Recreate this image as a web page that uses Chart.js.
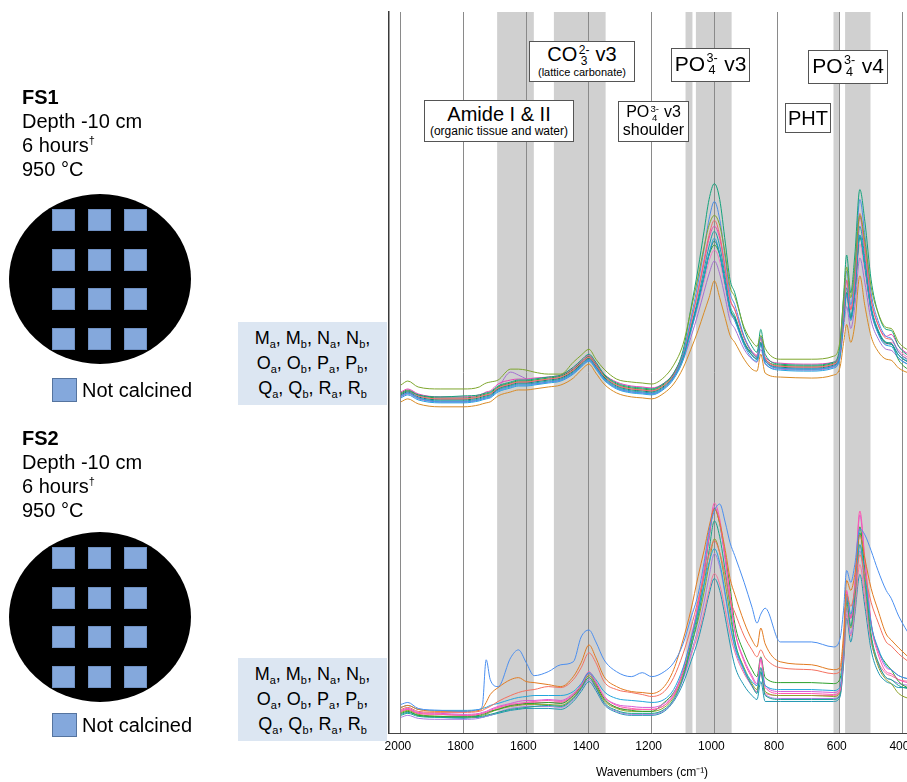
<!DOCTYPE html>
<html>
<head>
<meta charset="utf-8">
<title>FS1 / FS2 FTIR spectra</title>
<script src="https://cdn.jsdelivr.net/npm/chart.js@4.4.1/dist/chart.umd.min.js"></script>
<style>
  html, body { margin: 0; padding: 0; background: #fff; overflow: hidden; }
  body { width: 907px; height: 782px; position: relative; font-family: "Liberation Sans", Arial, sans-serif; color: #000; }
  #plot { position: absolute; left: 0; top: 0; }
  .info { position: absolute; left: 22px; font-size: 20px; line-height: 24px; white-space: nowrap; }
  .info sup { font-size: 11px; vertical-align: 8px; line-height: 0; }
  .disc { position: absolute; left: 9px; width: 182px; height: 170px; border-radius: 50%; background: #000; }
  .sq { position: absolute; width: 23px; height: 22px; background: #84a8dc; box-sizing: border-box; border: 1px solid #6f90c2; }
  .key { position: absolute; left: 52px; font-size: 20px; line-height: 24px; white-space: nowrap; }
  .key .sw { display: inline-block; width: 25px; height: 24px; vertical-align: top; margin-right: 5px; background: #84a8dc; box-sizing: border-box; border: 1px solid #55749f; }
  .samples { position: absolute; left: 238px; width: 149px; height: 83px; background: #dce6f2; font-size: 18px; line-height: 25px; text-align: center; padding-top: 4px; box-sizing: border-box; white-space: nowrap; }
  .samples sub { font-size: 11px; vertical-align: -4px; line-height: 0; }
  .note { position: absolute; background: #fff; border: 1px solid #555; box-sizing: border-box; display: flex; flex-direction: column; align-items: center; justify-content: center; white-space: nowrap; line-height: 1.05; }
  .stk { display: inline-flex; flex-direction: column; vertical-align: middle; font-size: 0.6em; line-height: 0.95; margin: 0 0.05em 0 0.12em; text-align: center; }
</style>
</head>
<body>

<canvas id="plot" width="940" height="782"></canvas>

<!-- sample descriptions, left column -->
<div class="info" style="top:85px"><b>FS1</b><br>Depth -10 cm<br>6 hours<sup>†</sup><br>950 °C</div>
<div class="disc" id="disc1" style="top:194px"></div>
<div class="key" style="top:378px"><span class="sw"></span>Not calcined</div>

<div class="info" style="top:426px"><b>FS2</b><br>Depth -10 cm<br>6 hours<sup>†</sup><br>950 °C</div>
<div class="disc" id="disc2" style="top:532px"></div>
<div class="key" style="top:713px"><span class="sw"></span>Not calcined</div>

<div class="samples" style="top:322px">M<sub>a</sub>, M<sub>b</sub>, N<sub>a</sub>, N<sub>b</sub>,<br>O<sub>a</sub>, O<sub>b</sub>, P<sub>a</sub>, P<sub>b</sub>,<br>Q<sub>a</sub>, Q<sub>b</sub>, R<sub>a</sub>, R<sub>b</sub></div>
<div class="samples" style="top:658px">M<sub>a</sub>, M<sub>b</sub>, N<sub>a</sub>, N<sub>b</sub>,<br>O<sub>a</sub>, O<sub>b</sub>, P<sub>a</sub>, P<sub>b</sub>,<br>Q<sub>a</sub>, Q<sub>b</sub>, R<sub>a</sub>, R<sub>b</sub></div>

<!-- band labels -->
<div class="note" style="left:424px;top:100px;width:150px;height:42px">
  <span style="font-size:20px">Amide I &amp; II</span>
  <span style="font-size:12px">(organic tissue and water)</span>
</div>
<div class="note" style="left:529px;top:41px;width:106px;height:41px">
  <span style="font-size:20px">CO<span class="stk"><span>2-</span><span>3</span></span> v3</span>
  <span style="font-size:11px">(lattice carbonate)</span>
</div>
<div class="note" style="left:618px;top:101px;width:71px;height:41px">
  <span style="font-size:16px">PO<span class="stk"><span>3-</span><span>4</span></span> v3</span>
  <span style="font-size:16px">shoulder</span>
</div>
<div class="note" style="left:671px;top:48px;width:79px;height:34px">
  <span style="font-size:21px">PO<span class="stk"><span>3-</span><span>4</span></span> v3</span>
</div>
<div class="note" style="left:785px;top:103px;width:46px;height:30px">
  <span style="font-size:20px">PHT</span>
</div>
<div class="note" style="left:808px;top:50px;width:80px;height:34px">
  <span style="font-size:21px">PO<span class="stk"><span>3-</span><span>4</span></span> v4</span>
</div>

<script>
// wavenumber grid shared by every spectrum (cm-1)
var wavenumbers = [2000, 1978, 1945, 1875, 1800, 1750, 1740, 1728, 1715, 1690,
  1650, 1625, 1600, 1575, 1530, 1490, 1450, 1425, 1400, 1378,
  1352, 1312, 1265, 1230, 1200, 1160, 1130, 1100, 1075, 1052,
  1033, 1017, 1000, 983, 965, 950, 935, 905, 880, 864,
  852, 838, 790, 690, 620, 600, 588, 578, 565, 552,
  536, 520, 500, 478, 452, 436, 412, 372];

var tickValues = [2000, 1800, 1600, 1400, 1200, 1000, 800, 600, 400];

// shaded absorption regions [from, to] cm-1
var bandRanges = [[1693, 1576], [1512, 1347], [1092, 1070], [1059, 945], [620, 602], [583, 502]];

var sampleNames = ['Ma', 'Mb', 'Na', 'Nb', 'Oa', 'Ob', 'Pa', 'Pb', 'Qa', 'Qb', 'Ra', 'Rb'];

// FS1 is stacked above FS2
var FS1_SHIFT = 160;

// absorbance (a.u.), FS1
var fs1Ma = [15.5, 17.5, 14.5, 13.5, 13.5, 14.5, 15.5, 16.5, 17, 18, 23.5, 23.5, 23, 22, 21, 21, 27, 30.5, 33.5, 28.5, 23.5, 18.5, 17, 16.5, 16, 19.5, 25.5,
  36, 53, 70, 85, 96, 101, 96, 81, 65, 60, 44.5, 37.5, 35, 40.5, 34, 28.5, 28.5, 30, 37, 58.5, 75, 59.5, 75, 101, 88, 65, 52, 44.5, 44, 37, 32];
var fs1Mb = [11, 12.5, 10.5, 9.5, 10, 10.5, 11, 11.5, 12, 15, 17, 18, 18, 18.5, 19.5, 20.5, 24.5, 28, 31, 27, 21, 16.5, 14.5, 14, 13.5, 16.5, 21.5,
  33, 54, 74, 93, 109, 117, 109, 87, 68.5, 62, 43.5, 35, 32, 43.5, 31, 26, 25.5, 27, 35, 60, 81, 62, 81, 114, 98, 68.5, 52, 43.5, 43, 35, 29];
var fs1Na = [10, 11.5, 9, 7, 7, 8, 8.5, 9, 9.5, 12.5, 14.5, 15.5, 15.5, 16, 17, 18, 21.5, 25, 28, 24, 18.5, 14, 12, 11.5, 11, 14, 19.5,
  31, 49, 67, 84, 99, 108, 99, 79, 62, 56, 40, 32, 29.5, 40, 28, 24, 23.5, 25, 32, 55, 73, 56, 73, 109, 91, 62, 48, 40, 39, 32, 27];
var fs1Nb = [11, 12.5, 10, 8.5, 8.5, 9.5, 10, 10.5, 11, 14, 16, 17, 17, 17.5, 18.5, 19.5, 23, 26.5, 29.5, 25.5, 20, 15.5, 13.5, 13, 12.5, 15.5, 20.5,
  31, 47, 63, 78.5, 91, 98.5, 91, 74, 59, 53.5, 39, 32, 30, 39, 29, 25, 24.5, 26, 32, 52.5, 68.5, 53.5, 68.5, 102, 85, 59, 46, 39, 38.5, 32, 27.5];
var fs1Oa = [12, 13.5, 11, 9.5, 9.5, 10.5, 11, 12, 12.5, 16, 18, 18.5, 18.5, 19, 19.5, 20.5, 24, 27.5, 30.5, 26.5, 21, 17, 15, 14.5, 14, 16.5, 21.5,
  31.5, 47, 63, 77, 89.5, 95.5, 89.5, 73, 58.5, 53.5, 39.5, 32.5, 30.5, 39.5, 29.5, 26.5, 26, 27, 32.5, 52.5, 68, 53.5, 68, 100, 83.5, 58.5, 46, 40, 41, 35, 30];
var fs1Ob = [10, 11.5, 9, 7.5, 7.5, 8.5, 9, 9.5, 10, 13, 15, 16, 16, 16.5, 17.5, 18.5, 22, 25.5, 28.5, 24.5, 19, 14.5, 12.5, 12, 11.5, 14.5, 19.5,
  29.5, 44.5, 59.5, 73.5, 85.5, 93, 85.5, 69.5, 55.5, 50.5, 37, 30.5, 28.5, 37, 27.5, 24, 23.5, 25, 30.5, 49.5, 64.5, 50.5, 64.5, 95.5, 79.5, 55.5, 43.5, 37, 36.5, 30.5, 26.5];
var fs1Pa = [9, 10.5, 8, 6.5, 6.5, 7.5, 8, 8.5, 9, 12, 14, 15, 15, 15.5, 16.5, 17.5, 21, 24.5, 27.5, 23.5, 18, 13.5, 11.5, 11, 10.5, 13.5, 18.5,
  28, 42.5, 56.5, 70, 81.5, 89.5, 81.5, 66, 53, 48, 35.5, 29, 27.5, 35.5, 26.5, 23, 22.5, 24, 29, 47, 61.5, 48, 61.5, 91, 75.5, 53, 41.5, 35.5, 35, 29, 25];
var fs1Pb = [10.5, 12, 9.5, 8, 8, 9, 9.5, 10, 10.5, 13.5, 15.5, 16.5, 16.5, 17, 18, 19, 22.5, 26, 29, 25, 19.5, 15, 13, 12.5, 12, 15, 20,
  29.5, 43.5, 57.5, 70.5, 81.5, 88, 81.5, 66.5, 53.5, 49, 36.5, 30.5, 28.5, 36.5, 27.5, 24.5, 24, 25.5, 30.5, 48, 62, 49, 62, 91, 76, 53.5, 42.5, 36.5, 36, 30.5, 26];
var fs1Qa = [11.5, 13, 10.5, 9, 9, 10, 10.5, 11, 11.5, 14.5, 16.5, 17.5, 17.5, 18, 19, 20, 23.5, 27, 30, 26, 20.5, 16, 14, 13.5, 13, 16, 21,
  30.5, 44, 57.5, 70, 81, 86, 81, 66.5, 54, 49.5, 37, 31.5, 29.5, 37, 28.5, 25.5, 25, 26.5, 31.5, 48.5, 62, 49.5, 62, 90, 75.5, 54, 43, 37, 36.5, 28, 22];
var fs1Qb = [11, 12.5, 10, 8.5, 8.5, 9.5, 10, 10.5, 11, 14, 16, 17, 17, 17.5, 18.5, 19.5, 23, 26.5, 29.5, 25.5, 20, 15.5, 13.5, 13, 12.5, 15.5, 20.5,
  29.5, 42.5, 55.5, 67.5, 78, 83.5, 78, 64, 52, 48, 36, 30.5, 29, 36, 28, 25, 24.5, 26, 30.5, 47, 60, 48, 60, 86.5, 73, 52, 42, 36, 37, 33, 28];
var fs1Ra = [9.5, 11, 8.5, 7, 7, 8, 8.5, 9, 9.5, 14, 22, 20.5, 18.5, 16, 17, 18, 21.5, 25, 28, 24, 18.5, 14, 12, 11.5, 11, 14, 19,
  28, 39.5, 51.5, 62.5, 71.5, 78, 71.5, 59, 48, 44, 33.5, 28.5, 27, 33.5, 26, 23.5, 23, 24.5, 28.5, 43.5, 55, 44, 55, 79.5, 67, 48, 39, 33.5, 33, 29, 25];
var fs1Rb = [7, 8.5, 6, 4.5, 4.5, 5.5, 6, 6.5, 7, 10, 12, 13, 13, 13.5, 14.5, 15.5, 19, 23, 26, 21.5, 16, 11.5, 9.5, 9, 8.5, 11.5, 16,
  24, 33.5, 43, 52, 59.5, 68, 59.5, 49, 40.5, 37, 28.5, 23.5, 22.5, 31, 21.5, 19.5, 19, 20.5, 24, 36.5, 46, 37, 46, 70.5, 55.5, 40, 32.5, 28.5, 28, 24, 21];

// absorbance (a.u.), FS2
var fs2Ma = [14.5, 15.5, 12.5, 11.5, 11, 12, 14, 37, 27, 23.5, 38, 42, 35.5, 29, 31, 34.5, 36, 48.5, 52, 46, 37, 31, 28.5, 30.5, 28.5,
  31, 35.5, 45, 58, 70, 86, 102, 112, 115.5, 106, 96, 89.5, 76, 63.5, 55.5, 60, 63, 46, 46, 43.5, 47, 62, 82, 76, 85, 103, 100, 92, 82, 72, 68, 59, 48];
var fs2Mb = [13, 14, 12, 11, 11, 11.5, 12.5, 15.5, 19.5, 23, 27, 28, 26, 25.5, 24.5, 23.5, 28.5, 35.5, 44.5, 38, 28.5, 23.5, 21, 20.5, 20,
  23.5, 32, 47, 62, 79, 92, 104, 113, 106, 92, 78, 70, 56, 47, 43.5, 53, 45, 36, 34.5, 32, 33, 50, 77, 72, 80, 100, 88, 73, 62, 50, 47, 43, 37];
var fs2Na = [12, 13, 11, 10.5, 10.5, 11, 11.5, 12.5, 13.5, 16, 19, 20.5, 21.5, 22, 23.5, 23, 27, 33, 40.5, 35.5, 26, 22, 20.5, 19.5, 18.5,
  21, 28, 40, 53, 67, 79, 90, 97, 91, 79, 67, 61, 49, 42, 38.5, 42, 38, 33, 32, 30, 31, 45, 70, 64, 72, 90, 80, 66, 56, 46, 44, 40, 35];
var fs2Nb = [13, 14, 12, 11.5, 11.5, 12, 12.5, 13, 14, 15, 17, 18, 18.5, 19, 19, 19, 21, 25, 30.5, 27, 21, 17.5, 16.5, 16, 15.5,
  17, 22, 33, 47, 62, 75, 86, 93, 86, 70, 55, 44, 32, 26, 24, 33, 24, 22, 22, 21.5, 23, 42, 70, 60, 72, 95, 80, 55, 43, 34, 32, 29, 27];
var fs2Oa = [11, 12, 10, 9.5, 9, 9.5, 10, 10.5, 11.5, 13, 14.5, 15, 15.5, 16, 16.5, 16, 19.5, 24.5, 31, 26, 18.5, 14, 12.5, 12, 12,
  14, 19, 31, 47, 64, 82, 100, 116, 108, 88, 70, 52, 36, 28, 24, 37, 23, 20, 20, 19.5, 21, 40, 72, 58, 75, 112, 88, 55, 40, 31, 30, 27, 25];
var fs2Ob = [11.5, 12.5, 10.5, 10, 9.5, 10, 10.5, 11, 12, 13.5, 15, 16, 16.5, 16.5, 17, 16.5, 20, 24, 30, 25.5, 18.5, 14.5, 13.5, 13, 13,
  15, 20, 32, 48, 65, 82, 99, 114, 106, 87, 69, 52, 37, 29, 25, 38, 24, 21, 21, 20.5, 22, 41, 71, 58, 74, 110, 87, 56, 42, 33, 32, 29, 27];
var fs2Pa = [10, 11, 9, 8.5, 8.5, 9, 9.5, 10, 11, 12, 14, 14.5, 15, 15, 15.5, 15, 19, 24, 30, 25, 17.5, 13, 11.5, 11, 11,
  15.5, 20.5, 30.5, 45.5, 62, 80.5, 98.5, 113.5, 105.5, 88.5, 73.5, 55.5, 40.5, 32, 28.5, 38.5, 28, 25.5, 25.5, 25, 27, 44, 70, 58, 72, 104, 82, 55, 42, 35, 32, 26, 22];
var fs2Pb = [9, 10, 8.5, 8, 8, 8.5, 8.5, 9, 9.5, 10.5, 12, 12.5, 13, 13.5, 14, 13.5, 17.5, 22.5, 28, 23, 15.5, 11.5, 10, 10, 10,
  12, 17, 28, 43, 59, 75, 92, 107, 99, 81, 64, 47, 32, 24, 20, 31, 19, 17, 17, 17, 19, 38, 68, 54, 70, 101, 80, 50, 36, 28, 27, 24, 22];
var fs2Qa = [10.5, 11.5, 9.5, 8.5, 8, 8.5, 9, 9.5, 10.5, 12, 13.5, 14, 14.5, 14.5, 14.5, 14, 18, 23, 29, 24, 16.5, 12.5, 11, 11, 11,
  13, 18, 29, 43, 57, 71, 85, 98, 91, 75, 60, 46, 33, 25, 22, 33, 21, 19, 19, 18.5, 20, 38, 66, 53, 68, 95, 76, 48, 34, 27, 25, 20, 17];
var fs2Qb = [8, 9, 7.5, 7, 7, 7.5, 8, 8.5, 9, 10.5, 12.5, 13, 13.5, 13.5, 13.5, 13, 17, 22, 27, 22.5, 15, 11, 9.5, 9.5, 9.5,
  11.5, 16.5, 27, 40, 53, 66, 79, 90.5, 84, 69, 55, 43, 31, 23.5, 20.5, 31, 19.5, 17.5, 17.5, 17.5, 19, 36, 63, 50, 65, 92, 73, 47, 35, 28, 27, 25, 24];
var fs2Ra = [11, 12, 10, 9.5, 9, 9.5, 10, 10.5, 11, 12.5, 14, 14.5, 15, 15.5, 15.5, 15.5, 19, 23, 28, 23.5, 17, 13, 12, 12, 12,
  14, 19, 28, 39, 50, 61, 72, 80.5, 75, 62, 50, 41, 30, 24, 21, 30, 20, 19, 19, 19, 21, 36, 60, 49, 62, 85, 68, 46, 36, 30, 29, 27, 26];
var fs2Rb = [9.5, 10.5, 9, 8, 7.5, 8, 8, 8.5, 9, 10, 11.5, 12, 12.5, 12.5, 12.5, 12, 16, 21, 26, 21.5, 14.5, 10.5, 9, 9, 9,
  11, 16, 25, 36, 47, 59, 70, 78, 72, 58, 45, 34, 24, 19, 17, 26, 16, 16, 16, 16, 18, 34, 58, 46, 60, 80, 64, 42, 31, 26, 25, 23, 23];

var fs1Colors = ['#7ea62d', '#13a37c', '#4b8ee6', '#f06b6b', '#e545b5', '#1c9faa',
  '#23a4e0', '#11806f', '#2e9e3a', '#f27ac6', '#a56fd2', '#d98b25'];
var fs2Colors = ['#4b8ff0', '#e27b21', '#f4705f', '#22a6dc', '#ff58b0', '#d65ad6',
  '#2ca02c', '#16a68d', '#8fa22b', '#a47ce3', '#f3779c', '#1f96b2'];

var fs1Series = [fs1Ma, fs1Mb, fs1Na, fs1Nb, fs1Oa, fs1Ob, fs1Pa, fs1Pb, fs1Qa, fs1Qb, fs1Ra, fs1Rb];
var fs2Series = [fs2Ma, fs2Mb, fs2Na, fs2Nb, fs2Oa, fs2Ob, fs2Pa, fs2Pb, fs2Qa, fs2Qb, fs2Ra, fs2Rb];

// blue sample squares on the black discs
var squareCols = [43, 79, 115];
var squareRows = [15, 55, 94, 134];
['disc1', 'disc2'].forEach(function (id) {
  var disc = document.getElementById(id);
  squareRows.forEach(function (top) {
    squareCols.forEach(function (left) {
      var sq = document.createElement('div');
      sq.className = 'sq';
      sq.style.left = left + 'px';
      sq.style.top = top + 'px';
      disc.appendChild(sq);
    });
  });
});

function makeSet(group, values, i, shift, colors) {
  return {
    label: group + ' ' + sampleNames[i],
    data: values.map(function (v, j) { return { x: wavenumbers[j], y: v + shift }; }),
    borderColor: colors[i],
    borderWidth: 1,
    pointRadius: 0,
    fill: false,
    cubicInterpolationMode: 'monotone'
  };
}

var datasets = [];
fs1Series.forEach(function (s, i) { datasets.push(makeSet('FS1', s, i, FS1_SHIFT, fs1Colors)); });
fs2Series.forEach(function (s, i) { datasets.push(makeSet('FS2', s, i, 0, fs2Colors)); });

// grey bands behind the grid
var bandPlugin = {
  id: 'bands',
  beforeDraw: function (chart) {
    var ctx = chart.ctx, area = chart.chartArea, x = chart.scales.x;
    ctx.save();
    ctx.fillStyle = '#d0d0d0';
    bandRanges.forEach(function (b) {
      var x1 = x.getPixelForValue(b[0]);
      var x2 = x.getPixelForValue(b[1]);
      ctx.fillRect(Math.min(x1, x2), area.top, Math.abs(x2 - x1), area.bottom - area.top);
    });
    ctx.restore();
  }
};

Chart.defaults.font.family = '"Liberation Sans", Arial, sans-serif';
Chart.defaults.color = '#000';

new Chart(document.getElementById('plot'), {
  type: 'line',
  data: { datasets: datasets },
  plugins: [bandPlugin],
  options: {
    responsive: false,
    animation: false,
    events: [],
    layout: { padding: { left: 389, top: 12, right: 25, bottom: 0 } },
    plugins: { legend: { display: false }, tooltip: { enabled: false } },
    scales: {
      x: {
        type: 'linear',
        reverse: true,
        min: 360,
        max: 2038,
        afterBuildTicks: function (scale) {
          scale.ticks = tickValues.map(function (v) { return { value: v }; });
        },
        ticks: {
          font: { size: 12 },
          color: '#000',
          padding: 6,
          labelOffset: -3,
          maxRotation: 0,
          autoSkip: false,
          callback: function (v) { return String(v); }
        },
        grid: { color: '#8a8a8a', lineWidth: 1, drawTicks: false },
        border: { display: true, color: '#444', width: 1 },
        title: {
          display: true,
          text: 'Wavenumbers (cm⁻¹)',
          font: { size: 12 },
          color: '#000',
          padding: { top: 6, bottom: 2 }
        }
      },
      y: {
        min: 0,
        max: 363.5,
        ticks: { display: false },
        grid: { display: false, drawTicks: false },
        border: { display: true, color: '#3a3a3a', width: 1.5 }
      }
    }
  }
});
</script>
</body>
</html>
